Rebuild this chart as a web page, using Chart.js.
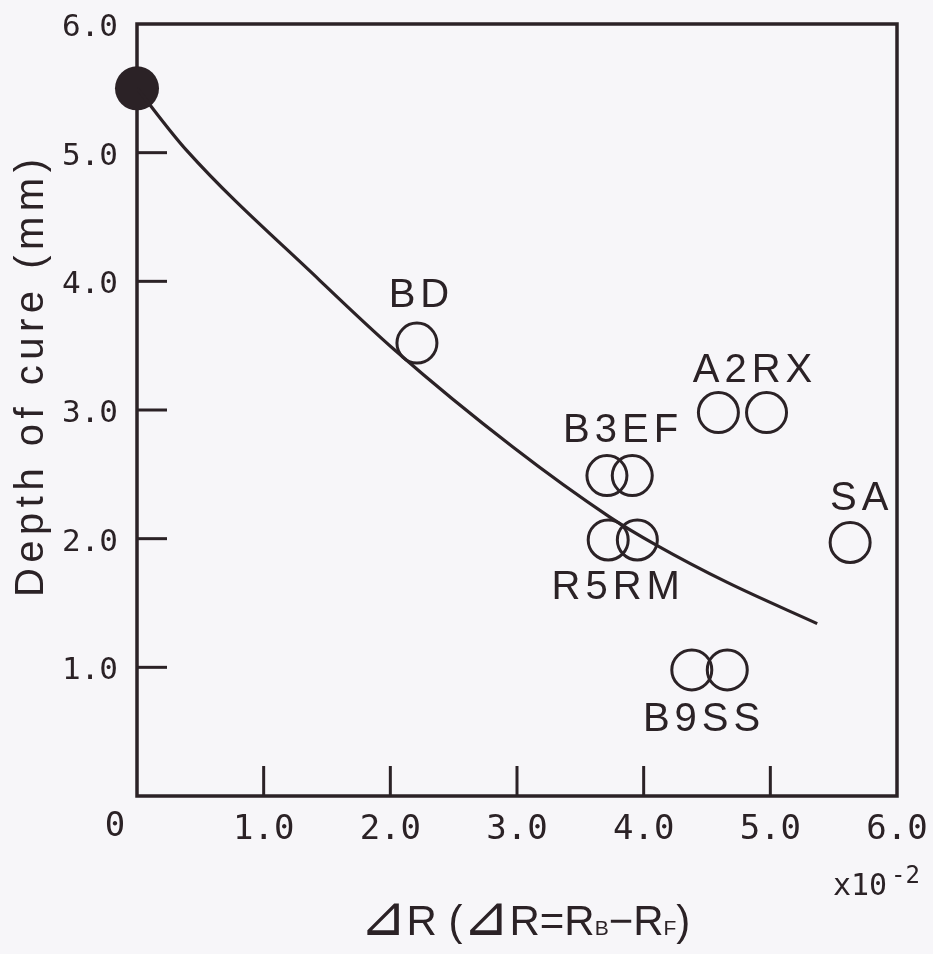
<!DOCTYPE html>
<html>
<head>
<meta charset="utf-8">
<script src="https://cdn.jsdelivr.net/npm/chart.js@4"></script>
<style>
  html, body { margin: 0; padding: 0; background: #f7f6f9; }
  #wrap { width: 933px; height: 954px; }
</style>
</head>
<body>
<div id="wrap"><canvas id="cureChart"></canvas></div>
<script>
// fitted curve: depth of cure against refractive index difference
const fitDeltaR = [0, 0.39, 1.44, 2.03, 2.97, 3.73, 4.10, 4.66, 5.37];
const fitDepth  = [5.50, 5.02, 4.01, 3.47, 2.71, 2.17, 1.95, 1.66, 1.34];

// resin without filler (deltaR = 0)
const baseDeltaR = [0];
const baseDepth  = [5.50];

// filled resins, doubled circles where there are two measurements
const resinNames  = ["BD", "A2RX", "B3EF", "R5RM", "SA", "B9SS"];
const resinDeltaR = [[2.21], [4.59, 4.97], [3.71, 3.91], [3.72, 3.95], [5.63], [4.38, 4.66]];
const resinDepth  = [3.52, 2.98, 2.49, 1.99, 1.97, 0.98];

// axis ticks (deltaR in units of 10^-2, depth in mm)
const xTicks = [0, 1, 2, 3, 4, 5, 6];
const yTicks = [0, 1, 2, 3, 4, 5, 6];

const INK = "#2b2226";
const MONO = '"DejaVu Sans Mono", "Liberation Mono", monospace';
const SANS = '"Liberation Sans", Arial, sans-serif';
const DELTA_FONT = '"DejaVu Sans", sans-serif';

// where each resin name sits relative to its circle(s)
const labelOffsets = {
    BD: [2, -47], A2RX: [10, -42], B3EF: [1, -45],
    R5RM: [-7, 48], SA: [9, -44], B9SS: [-8, 50]
};

function spacedText(ctx, text, cx, cy, spacing) {
    ctx.letterSpacing = "0px";
    const w = ctx.measureText(text).width + spacing * (text.length - 1);
    ctx.letterSpacing = spacing + "px";
    ctx.textAlign = "left";
    ctx.fillText(text, cx - w / 2, cy);
    ctx.letterSpacing = "0px";
}

function line(ctx, x1, y1, x2, y2) {
    ctx.beginPath();
    ctx.moveTo(x1, y1);
    ctx.lineTo(x2, y2);
    ctx.stroke();
}

// box frame and inward tick marks
const framePlugin = {
    id: "frame",
    beforeDatasetsDraw(chart) {
        const { ctx, chartArea: a, scales: { x, y } } = chart;
        ctx.save();
        ctx.strokeStyle = INK;
        ctx.lineWidth = 3.5;
        ctx.strokeRect(a.left, a.top, a.right - a.left, a.bottom - a.top);
        ctx.lineWidth = 3;
        xTicks.slice(1, -1).forEach(v => {
            const px = x.getPixelForValue(v);
            line(ctx, px, a.bottom, px, a.bottom - 30);
        });
        yTicks.slice(1, -1).forEach(v => {
            const py = y.getPixelForValue(v);
            line(ctx, a.left, py, a.left + 30, py);
        });
        ctx.restore();
    }
};

// resin names, axis titles, origin label and exponent
const textPlugin = {
    id: "texts",
    afterDraw(chart) {
        const { ctx, chartArea: a, scales: { x, y } } = chart;
        ctx.save();
        ctx.fillStyle = INK;
        ctx.textBaseline = "middle";

        ctx.font = "40px " + SANS;
        resinNames.forEach((name, i) => {
            const xs = resinDeltaR[i].map(v => x.getPixelForValue(v));
            const cx = xs.reduce((s, v) => s + v, 0) / xs.length;
            const cy = y.getPixelForValue(resinDepth[i]);
            const [dx, dy] = labelOffsets[name];
            spacedText(ctx, name, cx + dx, cy + dy, 5);
        });

        // shared origin "0"
        ctx.font = "34px " + MONO;
        ctx.textAlign = "center";
        ctx.fillText("0", x.getPixelForValue(0) - 22, a.bottom + 31);

        // x10^-2
        ctx.textBaseline = "alphabetic";
        ctx.textAlign = "left";
        ctx.font = "30px " + MONO;
        ctx.fillText("x10", a.right - 64, a.bottom + 99);
        ctx.font = "24px " + MONO;
        ctx.fillText("-2", a.right - 6, a.bottom + 87);

        // y title
        ctx.save();
        ctx.translate(43, 378);
        ctx.rotate(-Math.PI / 2);
        ctx.font = "40px " + SANS;
        spacedText(ctx, "Depth of cure (mm)", 0, 0, 5.5);
        ctx.restore();

        // x title with subscripts
        const parts = [
            ["\u22BF", "56px " + DELTA_FONT],
            ["R (", "42px " + SANS],
            ["\u22BF", "56px " + DELTA_FONT],
            ["R=R", "42px " + SANS],
            ["B", "21px " + SANS],
            ["\u2212R", "42px " + SANS],
            ["F", "21px " + SANS],
            [")", "42px " + SANS]
        ];
        let total = 0;
        parts.forEach(p => {
            ctx.font = p[1];
            total += ctx.measureText(p[0]).width;
        });
        let px = 525 - total / 2;
        const base = a.bottom + 139;
        parts.forEach(p => {
            ctx.font = p[1];
            ctx.fillText(p[0], px, base);
            px += ctx.measureText(p[0]).width;
        });
        ctx.restore();
    }
};

const curvePoints = fitDeltaR.map((v, i) => ({ x: v, y: fitDepth[i] }));
const basePoints = baseDeltaR.map((v, i) => ({ x: v, y: baseDepth[i] }));
const resinPoints = resinDeltaR.flatMap((xs, i) => xs.map(v => ({ x: v, y: resinDepth[i] })));

new Chart(document.getElementById("cureChart"), {
    type: "scatter",
    data: {
        datasets: [
            {
                label: "fit",
                data: curvePoints,
                showLine: true,
                borderColor: INK,
                borderWidth: 3.2,
                pointRadius: 0,
                cubicInterpolationMode: "monotone",
                fill: false
            },
            {
                label: "base",
                data: basePoints,
                pointRadius: 22,
                backgroundColor: INK,
                borderColor: INK,
                borderWidth: 0,
                clip: false
            },
            {
                label: "resins",
                data: resinPoints,
                pointRadius: 20,
                backgroundColor: "rgba(0,0,0,0)",
                borderColor: INK,
                borderWidth: 3,
                clip: false
            }
        ]
    },
    options: {
        responsive: true,
        maintainAspectRatio: false,
        animation: false,
        layout: { padding: { top: 24, right: 36, left: 0, bottom: 0 } },
        plugins: {
            legend: { display: false },
            tooltip: { enabled: false }
        },
        scales: {
            x: {
                type: "linear",
                min: 0,
                max: 6,
                afterFit: s => { s.height = 158; s.paddingLeft = 0; s.paddingRight = 0; },
                afterBuildTicks: s => { s.ticks = xTicks.map(v => ({ value: v })); },
                grid: { display: false, drawTicks: false },
                border: { display: false },
                ticks: {
                    padding: 14,
                    color: INK,
                    font: { family: MONO, size: 34 },
                    maxRotation: 0,
                    callback: v => v === 0 ? "" : v.toFixed(1)
                }
            },
            y: {
                type: "linear",
                min: 0,
                max: 6,
                afterFit: s => { s.width = 137; s.paddingTop = 0; s.paddingBottom = 0; },
                afterBuildTicks: s => { s.ticks = yTicks.map(v => ({ value: v })); },
                grid: { display: false, drawTicks: false },
                border: { display: false },
                ticks: {
                    padding: 19,
                    labelOffset: 4,
                    color: INK,
                    font: { family: MONO, size: 31 },
                    callback: v => v === 0 ? "" : v.toFixed(1)
                }
            }
        }
    },
    plugins: [framePlugin, textPlugin]
});
</script>
</body>
</html>
